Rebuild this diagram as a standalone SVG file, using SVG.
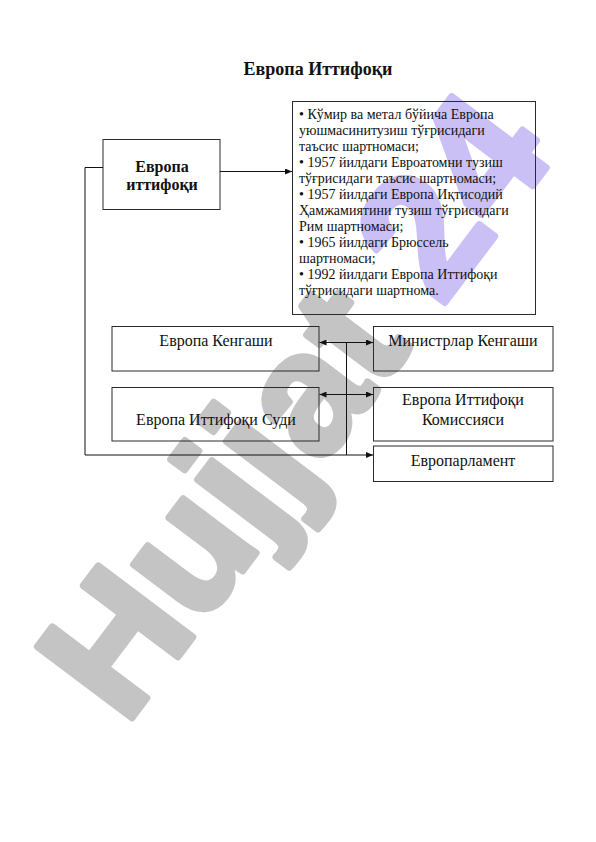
<svg xmlns="http://www.w3.org/2000/svg" width="596" height="842" viewBox="0 0 596 842">
<style>
.box{fill:none;stroke:#2a2a2a;stroke-width:1}
.t{font-family:"Liberation Serif","Times New Roman",serif;font-size:14px;fill:#111}
.m{font-size:16px}
.c{text-anchor:middle}
.b{font-weight:bold}
.ln{fill:none;stroke:#111;stroke-width:1}
.wm{font-family:"Liberation Sans",Arial,sans-serif;font-weight:bold;font-size:172px;stroke-width:7;stroke-linejoin:round}
</style>
<defs>
<marker id="ah" markerUnits="userSpaceOnUse" markerWidth="8" markerHeight="6" refX="7" refY="3" orient="auto-start-reverse">
<path d="M0,0 L7,3 L0,6 Z" fill="#111"/>
</marker>
</defs>
<rect width="596" height="842" fill="#fff"/>
<g id="watermark">
<text class="wm" transform="translate(125,727) rotate(-53)"><tspan fill="#c4c4c4" stroke="#c4c4c4">Hujjat</tspan><tspan fill="#cbc0f5" stroke="#cbc0f5"> 24</tspan></text>
</g>
<text id="title" class="t c b" x="318" y="75" style="font-size:18px">Европа Иттифоқи</text>
<g id="node-eu">
<rect class="box" x="103" y="139.5" width="117" height="70"/>
<text class="t m c b" x="162" y="171.5">Европа</text>
<text class="t m c b" x="162" y="189.5">иттифоқи</text>
</g>
<g id="node-treaties">
<rect class="box" x="292.5" y="101.5" width="243" height="213"/>
<text class="t" x="299" y="119">• Кўмир ва метал бўйича Европа</text>
<text class="t" x="299" y="135">уюшмасинитузиш тўғрисидаги</text>
<text class="t" x="299" y="151">таъсис шартномаси;</text>
<text class="t" x="299" y="167">• 1957 йилдаги Евроатомни тузиш</text>
<text class="t" x="299" y="183">тўғрисидаги таъсис шартномаси;</text>
<text class="t" x="299" y="199">• 1957 йилдаги Европа Иқтисодий</text>
<text class="t" x="299" y="215">Ҳамжамиятини тузиш тўғрисидаги</text>
<text class="t" x="299" y="231">Рим шартномаси;</text>
<text class="t" x="299" y="247">• 1965 йилдаги Брюссель</text>
<text class="t" x="299" y="263">шартномаси;</text>
<text class="t" x="299" y="279">• 1992 йилдаги Европа Иттифоқи</text>
<text class="t" x="299" y="295">тўғрисидаги шартнома.</text>
</g>
<g id="node-council">
<rect class="box" x="112" y="326.5" width="207" height="44.5"/>
<text class="t m c" x="216" y="346">Европа Кенгаши</text>
</g>
<g id="node-ministers">
<rect class="box" x="373.5" y="326.5" width="179.5" height="44.5"/>
<text class="t m c" x="463" y="346">Министрлар Кенгаши</text>
</g>
<g id="node-court">
<rect class="box" x="112" y="387.5" width="207" height="53.5"/>
<text class="t m c" x="216" y="424.5">Европа Иттифоқи Суди</text>
</g>
<g id="node-commission">
<rect class="box" x="373.5" y="387.5" width="179.5" height="53.5"/>
<text class="t m c" x="463" y="405">Европа Иттифоқи</text>
<text class="t m c" x="463" y="424.5">Комиссияси</text>
</g>
<g id="node-parliament">
<rect class="box" x="373.5" y="446" width="179.5" height="35.5"/>
<text class="t m c" x="463" y="465.5">Европарламент</text>
</g>
<g id="connectors">
<line class="ln" x1="220" y1="171.5" x2="292" y2="171.5" marker-end="url(#ah)"/>
<polyline class="ln" points="103,167.5 85,167.5 85,455 373,455" marker-end="url(#ah)"/>
<line class="ln" x1="319.5" y1="342.5" x2="373" y2="342.5" marker-start="url(#ah)" marker-end="url(#ah)"/>
<line class="ln" x1="319.5" y1="394.5" x2="373" y2="394.5" marker-start="url(#ah)" marker-end="url(#ah)"/>
<line class="ln" x1="346.5" y1="342.5" x2="346.5" y2="455"/>
</g>
</svg>
